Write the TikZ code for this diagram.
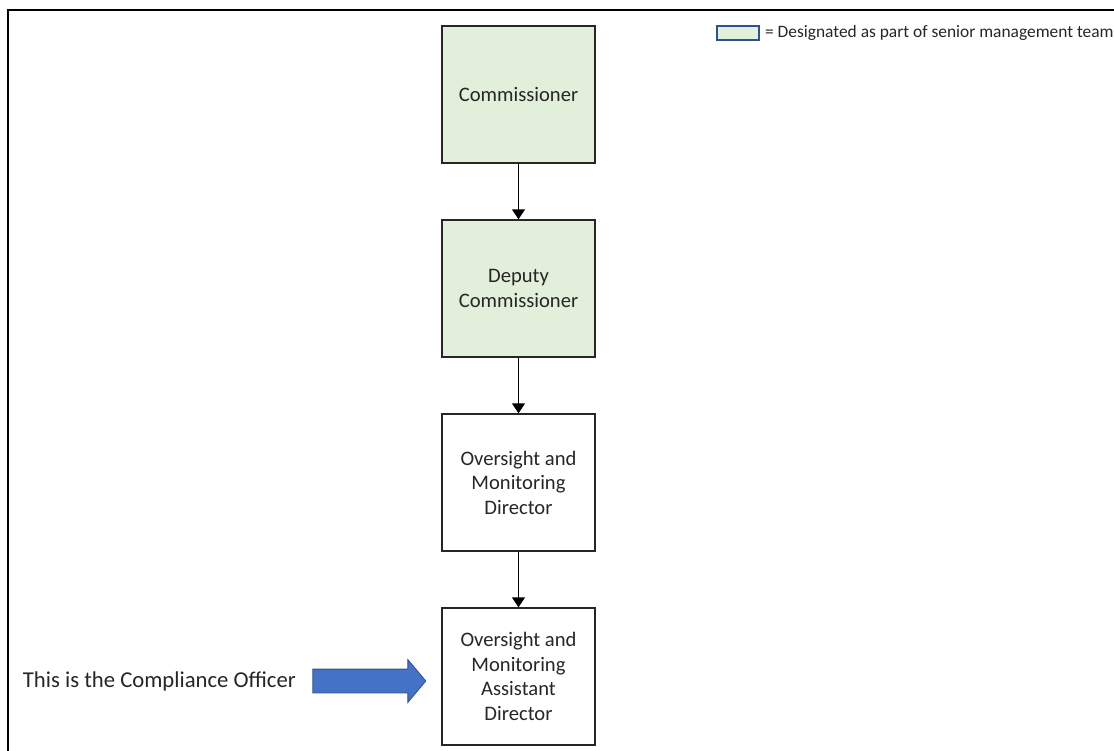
\documentclass[tikz,border=0pt]{standalone}
\usepackage{fontspec}
\setmainfont{Carlito}
\usepackage{xcolor}
\usetikzlibrary{arrows.meta,positioning,shapes.arrows}
\definecolor{smtgreen}{HTML}{E2EFDA}
\definecolor{ptrblue}{HTML}{4472C4}
\definecolor{ptredge}{HTML}{2F528F}

\begin{document}
\begin{tikzpicture}[
  x=1pt, y=1pt,
  post/.style={rectangle, minimum width=153pt, minimum height=137pt,
    font=\fontsize{20.6}{24.5}\selectfont, align=center, text=black!85,
    draw=black!85, line width=1.3pt, inner sep=2pt},
  smt/.style={post, fill=smtgreen},
  link/.style={-{Triangle[length=10pt,width=13pt]}, line width=1.3pt, black},
  node distance=55.7pt
]
\useasboundingbox (0,0) rectangle (1114,-750);

% frame
\draw[line width=2.6pt] (8,-760) |- (1120,-10);

\node[smt] (comm) at (518.5,-94.5) {Commissioner};
\node[smt, below=of comm] (dep) {Deputy\\Commissioner};
\node[post, below=of dep] (dir) {Oversight and\\Monitoring\\Director};
\node[post, below=of dir] (asst) {Oversight and\\Monitoring\\Assistant\\Director};

\draw[link] (comm) -- (dep);
\draw[link] (dep) -- (dir);
\draw[link] (dir) -- (asst);

% pointer to the compliance officer
\node[single arrow, fill=ptrblue, draw=ptredge, line width=0.8pt,
  minimum height=113pt, minimum width=42pt, inner xsep=0pt, inner ysep=11.5pt,
  single arrow head extend=9.5pt, single arrow tip angle=100,
  left=15pt of asst, yshift=-4.5pt] (ptr) {};
\node[font=\fontsize{22.7}{27}\selectfont, text=black!85, left=13pt of ptr] (note)
  {This is the Compliance Officer};

% legend
\node[rectangle, fill=smtgreen, draw=ptredge, line width=1.2pt,
  minimum width=42pt, minimum height=14pt, inner sep=0pt] (key) at (738,-33) {};
\node[font=\fontsize{17.4}{20}\selectfont, text=black!85, right=2pt of key] (keytxt)
  {= Designated as part of senior management team};

\end{tikzpicture}
\end{document}
